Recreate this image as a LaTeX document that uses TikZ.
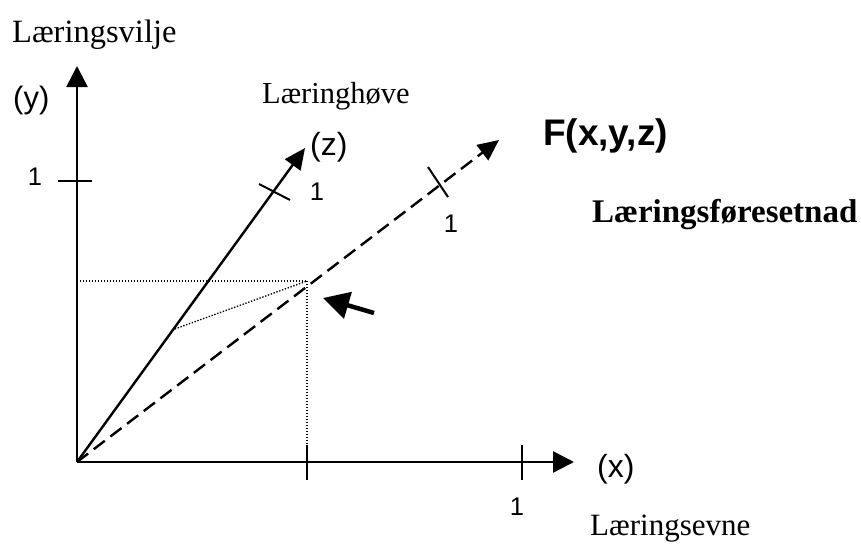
\documentclass[tikz,border=0pt]{standalone}
\usepackage{fontspec}
\setmainfont{Liberation Serif}
\setsansfont{Liberation Sans}
\usetikzlibrary{arrows.meta}
\begin{document}
\begin{tikzpicture}[x=1pt,y=-1pt,
  axis/.style={line width=2.6pt,-{Triangle[length=21pt,width=21pt]}},
  zaxis/.style={line width=2.4pt,-{Triangle[length=21pt,width=19pt]}},
  faxis/.style={line width=2.4pt,dash pattern=on 14pt off 7pt,-{Triangle[length=21pt,width=19pt]}},
  tickline/.style={line width=2pt},
  dotline/.style={line width=1.3pt,dash pattern=on 1.4pt off 1.6pt},
  pointer/.style={line width=4.5pt,-{Triangle[length=26pt,width=27pt]}},
  serif/.style={inner sep=0pt,anchor=base west,font=\fontsize{31}{34}\selectfont},
  sanslbl/.style={inner sep=0pt,anchor=base west,font=\sffamily\fontsize{32}{35}\selectfont},
  onelbl/.style={inner sep=0pt,anchor=base,font=\sffamily\fontsize{25.5}{28}\selectfont}]
\useasboundingbox (0,0) rectangle (861,543);
% key points
\coordinate (O) at (77,462);
\coordinate (Ytip) at (77,66);
\coordinate (Xtip) at (574,462);
\coordinate (Ztip) at (305,148);
\coordinate (Ftip) at (499,140);
\coordinate (P) at (307,281);
\coordinate (Py) at (77,281);
\coordinate (Px) at (307,445);
\coordinate (Pz) at (172,330);
% dotted projections
\draw[dotline] (Py) -- (P);
\draw[dotline] (P) -- (Px);
\draw[dotline] (Pz) -- (P);
% axes
\draw[axis] (O) -- (Ytip);
\draw[axis] (O) -- (Xtip);
\draw[zaxis] (O) -- (Ztip);
\draw[faxis] (O) -- (Ftip);
% ticks
\coordinate (ty1) at (58,181); \coordinate (ty2) at (92,181);
\draw[tickline] (ty1) -- (ty2);
\coordinate (tx1a) at (307,445); \coordinate (tx1b) at (307,480);
\draw[tickline] (tx1a) -- (tx1b);
\coordinate (tx2a) at (522,445); \coordinate (tx2b) at (522,480);
\draw[tickline] (tx2a) -- (tx2b);
\coordinate (tz1) at (259,184); \coordinate (tz2) at (290,200);
\draw[tickline] (tz1) -- (tz2);
\coordinate (tf1) at (428,167); \coordinate (tf2) at (448,197);
\draw[tickline] (tf1) -- (tf2);
% pointer arrow
\coordinate (ptail) at (374,313);
\coordinate (ptip) at (323,298);
\draw[pointer] (ptail) -- (ptip);
% labels
\node[serif,font=\fontsize{32.5}{35}\selectfont] (lvilje) at (12,42) {Læringsvilje};
\node[sanslbl,font=\sffamily\fontsize{31}{34}\selectfont] (ly) at (13,108) {(y)};
\node[onelbl] (l1y) at (35,185) {1};
\node[serif,font=\fontsize{30.5}{33}\selectfont] (lhove) at (262,103) {Læringhøve};
\node[sanslbl] (lz) at (310,155) {(z)};
\node[onelbl] (l1z) at (317,200) {1};
\node[onelbl] (l1f) at (451,232) {1};
\node[inner sep=0pt,anchor=base west,font=\sffamily\bfseries\fontsize{37}{40}\selectfont] (lF) at (543,145) {F(x,y,z)};
\node[inner sep=0pt,anchor=base west,font=\bfseries\fontsize{33}{36}\selectfont] (lfore) at (592,222) {Læringsføresetnad};
\node[sanslbl] (lx) at (597,477) {(x)};
\node[onelbl] (l1x) at (517,515) {1};
\node[serif] (levne) at (590,535) {Læringsevne};
\end{tikzpicture}
\end{document}
